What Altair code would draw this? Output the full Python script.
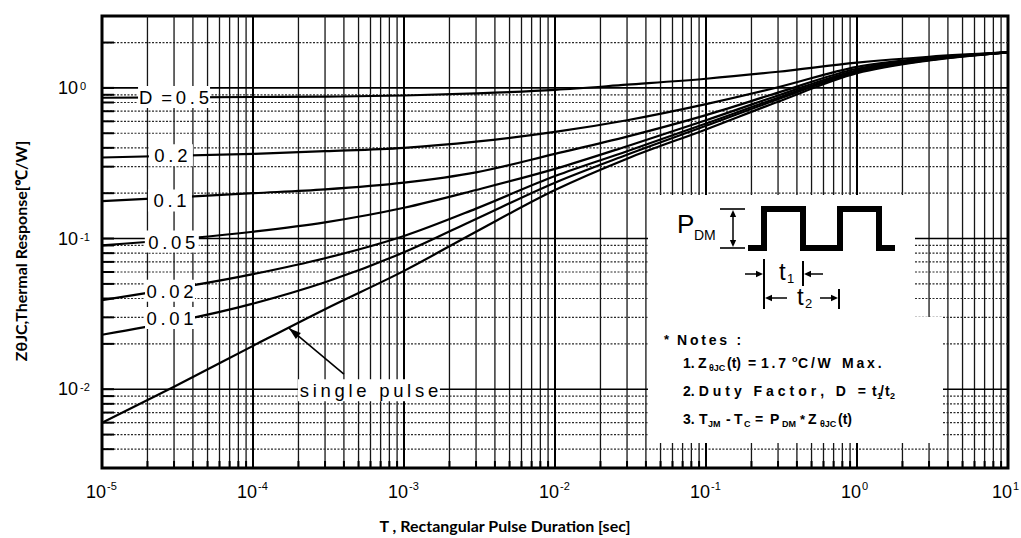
import math
import altair as alt
import pandas as pd

# ---------------- data ----------------
T = [1e-5, 1e-4, 3e-4, 1e-3, 3e-3, 1e-2, 3e-2, 1e-1, 3e-1, 1, 3, 10]
Z_D05 = [0.86, 0.87, 0.875, 0.89, 0.92, 0.97, 1.05, 1.15, 1.28, 1.47, 1.61, 1.72]
Z_D02 = [0.345, 0.365, 0.38, 0.40, 0.44, 0.51, 0.61, 0.78, 1.01, 1.38, 1.58, 1.72]
Z_D01 = [0.177, 0.20, 0.212, 0.235, 0.275, 0.365, 0.475, 0.66, 0.93, 1.34, 1.56, 1.72]
Z_D005 = [0.09, 0.111, 0.128, 0.16, 0.21, 0.29, 0.41, 0.61, 0.89, 1.31, 1.55, 1.72]
Z_D002 = [0.039, 0.058, 0.074, 0.104, 0.158, 0.26, 0.38, 0.58, 0.86, 1.29, 1.54, 1.72]
Z_D001 = [0.023, 0.037, 0.0513, 0.081, 0.135, 0.235, 0.36, 0.56, 0.84, 1.27, 1.53, 1.72]
T_SINGLE = [1e-5, 3e-5, 1e-4, 3e-4, 1e-3, 3e-3, 1e-2, 3e-2, 1e-1, 3e-1, 1, 3, 10]
Z_SINGLE = [0.006, 0.0104, 0.0194, 0.034, 0.061, 0.111, 0.21, 0.339, 0.53, 0.81, 1.25, 1.52, 1.72]

SERIES = [("D=0.5", T, Z_D05), ("D=0.2", T, Z_D02), ("D=0.1", T, Z_D01),
          ("D=0.05", T, Z_D005), ("D=0.02", T, Z_D002), ("D=0.01", T, Z_D001),
          ("single", T_SINGLE, Z_SINGLE)]

X_DOMAIN = [1e-5, 10]
Y_DOMAIN = [0.003, 3]
X_DECADES = [1e-5, 1e-4, 1e-3, 1e-2, 1e-1, 1, 10]
X_EXP = ["-5", "-4", "-3", "-2", "-1", "0", "1"]
Y_DECADES = [1e-2, 1e-1, 1]
Y_EXP = ["-2", "-1", "0"]
X_MINOR = [round(k * d, 12) for d in X_DECADES[:-1] for k in range(2, 10)]
Y_MINOR = [0.004, 0.005, 0.006, 0.007, 0.008, 0.009,
           0.02, 0.03, 0.04, 0.05, 0.06, 0.07, 0.08, 0.09,
           0.2, 0.3, 0.4, 0.5, 0.6, 0.7, 0.8, 0.9, 2]
X_MAJOR = X_DECADES[1:-1]
Y_MAJOR = Y_DECADES

CURVE_LABELS = ["D =0.5", "0.2", "0.1", "0.05", "0.02", "0.01", "single pulse"]
LABEL_X = [3.0e-5, 2.86e-5, 2.82e-5, 2.9e-5, 2.82e-5, 2.82e-5, 5.86e-4]
LABEL_Y = [0.871, 0.357, 0.179, 0.0955, 0.045, 0.0297, 0.00985]
LABEL_HALF_W = [36, 22, 22, 27, 25, 25, 71]   # px, white box behind label
LABEL_HALF_H = 11

ARROW_TAIL = (4.0e-4, 0.0126)
ARROW_TIP = (1.73e-4, 0.0254)

X_TITLE = "T , Rectangular Pulse Duration [sec]"
Y_TITLE = "Z\u03b8JC,Thermal Response[\u2103/W]"

# ---------------- inset (pixel coordinates of the figure) ----------------
INSET_BOX = [(648, 195, 915, 317), (648, 317, 943, 443)]
WAVE_X = [748, 764, 764, 803, 803, 840, 840, 879, 879, 895]
WAVE_Y = [248, 248, 209, 209, 248, 248, 209, 209, 248, 248]
INSET_RULES = [  # x, y, x2, y2, width
    (733, 214, 733, 244, 1.5), (720, 209, 745, 209, 1.6), (720, 248, 745, 248, 1.6),
    (764, 259, 764, 309, 2.0), (803, 261, 803, 286, 2.0),
    (745, 274, 757, 274, 1.5), (823, 274, 810, 274, 1.5),
    (787, 298, 772, 298, 1.5), (820, 298, 834, 298, 1.5),
    (839, 289, 839, 309, 2.0)]
INSET_HEADS = [  # tip x, tip y, angle
    (733, 210, 0), (733, 247, 180), (763, 274, 90), (804, 274, 270),
    (765, 298, 270), (838, 298, 90)]


def sp(s, gap="\u2009"):
    return gap.join(s)


INSET_TEXT_REG = [  # text, x, baseline y, size
    ("P", 677, 233, 26), ("DM", 694, 240, 14),
    ("t", 779, 280, 24), ("1", 787, 283, 13),
    ("t", 797, 305, 24), ("2", 805, 308, 13)]
INSET_TEXT_BOLD = [
    ("*", 664, 344, 13), (sp("Notes :"), 677, 345, 14),
    ("1.", 683, 368, 14), ("Z", 698, 368, 14), ("\u03b8JC", 709, 371, 9), ("(t)", 727, 368, 14),
    ("=", 748, 368, 14), (sp("1.7"), 761, 368, 14), ("o", 792, 362, 9),
    (sp("C/W"), 798, 368, 14), (sp("Max."), 842, 368, 14),
    ("2.", 683, 396, 14),
    ("t", 872, 396, 14), ("1", 877, 399, 9), ("/", 880, 396, 14),
    ("t", 885, 396, 14), ("2", 890, 399, 9),
    ("3.", 683, 424, 14), ("T", 699, 424, 14), ("JM", 708, 427, 9),
    ("-", 726, 424, 14), ("T", 734, 424, 14), ("C", 744, 427, 9),
    ("=", 755, 424, 14), ("P", 770, 424, 14), ("DM", 782, 427, 9),
    ("*", 800, 424, 13), ("Z", 808, 424, 14), ("\u03b8JC", 820, 427, 9),
    ("(t)", 838, 424, 14)]
INSET_TEXT_BOLD_RIGHT = [(sp("Duty Factor, D =", "\u2009\u200a"), 866, 396, 14)]

# ---------------- layout ----------------
PLOT_W, PLOT_H = 906, 452
PAD = {"left": 102, "top": 16, "right": 13, "bottom": 70}
FONT = "Liberation Sans"
DEC_X = PLOT_W / math.log10(X_DOMAIN[1] / X_DOMAIN[0])
DEC_Y = PLOT_H / math.log10(Y_DOMAIN[1] / Y_DOMAIN[0])

xs = alt.Scale(type="log", domain=X_DOMAIN, nice=False)
ys = alt.Scale(type="log", domain=Y_DOMAIN, nice=False)
X = lambda f: alt.X(f, type="quantitative", scale=xs, axis=None)
Y = lambda f: alt.Y(f, type="quantitative", scale=ys, axis=None)
X2 = lambda f: alt.X2(f)
Y2 = lambda f: alt.Y2(f)

# grid
g_xminor = alt.Chart(pd.DataFrame({"x": X_MINOR})).mark_rule(
    color="#151515", strokeWidth=1.3).encode(x=X("x"))
g_yminor = alt.Chart(pd.DataFrame({"y": Y_MINOR})).mark_rule(
    color="#2a2a2a", strokeWidth=1.2, strokeDash=[2, 1.5]).encode(y=Y("y"))
g_xmajor = alt.Chart(pd.DataFrame({"x": X_MAJOR})).mark_rule(
    color="black", strokeWidth=2).encode(x=X("x"))
g_ymajor = alt.Chart(pd.DataFrame({"y": Y_MAJOR})).mark_rule(
    color="black", strokeWidth=1.6).encode(y=Y("y"))
stub_y = alt.Chart(pd.DataFrame({"y": Y_MINOR + Y_MAJOR})).mark_rule(
    color="black", strokeWidth=2).encode(y=Y("y"), x=alt.value(0), x2=alt.value(12))
stub_x = alt.Chart(pd.DataFrame({"x": X_MINOR + X_MAJOR})).mark_rule(
    color="black", strokeWidth=2).encode(x=X("x"), y=alt.value(PLOT_H - 7), y2=alt.value(PLOT_H))

# curves
rows = []
for name, ts, zs in SERIES:
    for i, (t, z) in enumerate(zip(ts, zs)):
        rows.append({"series": name, "t": t, "z": z, "i": i})
curves = alt.Chart(pd.DataFrame(rows)).mark_line(
    color="black", strokeWidth=2.2, interpolate="monotone").encode(
    x=X("t"), y=Y("z"), detail="series:N", order="i:Q")

# labels
lab = pd.DataFrame({
    "text": [sp(s) if s != "D =0.5" else "D\u2009 =\u20090\u2009.\u20095" for s in CURVE_LABELS],
    "x": LABEL_X, "y": LABEL_Y,
    "x1": [x * 10 ** (-w / DEC_X) for x, w in zip(LABEL_X, LABEL_HALF_W)],
    "x2": [x * 10 ** (w / DEC_X) for x, w in zip(LABEL_X, LABEL_HALF_W)],
    "y1": [y * 10 ** (-LABEL_HALF_H / DEC_Y) for y in LABEL_Y],
    "y2": [y * 10 ** (LABEL_HALF_H / DEC_Y) for y in LABEL_Y],
})
lab_box = alt.Chart(lab).mark_rect(color="white").encode(
    x=X("x1"), x2=X2("x2"), y=Y("y1"), y2=Y2("y2"))
lab_text = alt.Chart(lab).mark_text(
    font=FONT, fontSize=18.5, color="black", align="center", baseline="middle", dy=1).encode(
    x=X("x"), y=Y("y"), text="text:N")

# single-pulse arrow
dxp = DEC_X * math.log10(ARROW_TIP[0] / ARROW_TAIL[0])
dyp = -DEC_Y * math.log10(ARROW_TIP[1] / ARROW_TAIL[1])
ang = (math.degrees(math.atan2(dxp, -dyp)) + 360) % 360
arr = pd.DataFrame({"x": [ARROW_TAIL[0]], "y": [ARROW_TAIL[1]],
                    "x2": [ARROW_TIP[0]], "y2": [ARROW_TIP[1]], "a": [ang]})
arrow_line = alt.Chart(arr).mark_rule(color="black", strokeWidth=1.6).encode(
    x=X("x"), y=Y("y"), x2=X2("x2"), y2=Y2("y2"))
HEAD = "M0,0L0.32,1L-0.32,1Z"
arrow_head = alt.Chart(arr).mark_point(
    shape=HEAD, filled=True, color="black", opacity=1, size=600, strokeWidth=0).encode(
    x=X("x2"), y=Y("y2"), angle=alt.Angle("a:Q", scale=None))

# tick labels
xd = pd.DataFrame({"x": X_DECADES, "e": X_EXP, "ten": ["10"] * len(X_DECADES)})
yd = pd.DataFrame({"y": Y_DECADES, "e": Y_EXP, "ten": ["10"] * len(Y_DECADES)})
xl_ten = alt.Chart(xd).mark_text(font=FONT, fontSize=18, align="right", baseline="alphabetic",
                                 dx=4, color="black").encode(x=X("x"), y=alt.value(PLOT_H + 30), text="ten:N")
xl_exp = alt.Chart(xd).mark_text(font=FONT, fontSize=11, align="left", baseline="alphabetic",
                                 dx=5, color="black").encode(x=X("x"), y=alt.value(PLOT_H + 22), text="e:N")
yl_ten = alt.Chart(yd).mark_text(font=FONT, fontSize=18, align="right", baseline="middle",
                                 dy=1, color="black").encode(y=Y("y"), x=alt.value(-24), text="ten:N")
yl_exp = alt.Chart(yd).mark_text(font=FONT, fontSize=11, align="left", baseline="top",
                                 dy=-7, color="black").encode(y=Y("y"), x=alt.value(-22), text="e:N")

main = alt.layer(g_xminor, g_yminor, g_xmajor, g_ymajor, stub_y, stub_x, curves,
                 lab_box, lab_text, arrow_line, arrow_head, xl_ten, xl_exp, yl_ten, yl_exp)

# ---------------- inset layer (pixel scales) ----------------
pxs = alt.Scale(domain=[PAD["left"], PAD["left"] + PLOT_W], nice=False, zero=False)
pys = alt.Scale(domain=[PAD["top"], PAD["top"] + PLOT_H], nice=False, zero=False, reverse=True)
PX = lambda f: alt.X(f, type="quantitative", scale=pxs, axis=None)
PY = lambda f: alt.Y(f, type="quantitative", scale=pys, axis=None)

box = pd.DataFrame(INSET_BOX, columns=["x", "y", "x2", "y2"])
i_box = alt.Chart(box).mark_rect(color="white").encode(
    x=PX("x"), y=PY("y"), x2=alt.X2("x2"), y2=alt.Y2("y2"))
wave = pd.DataFrame({"x": WAVE_X, "y": WAVE_Y, "i": list(range(len(WAVE_X)))})
i_wave = alt.Chart(wave).mark_line(color="black", strokeWidth=6, strokeJoin="miter",
                                   strokeCap="butt").encode(x=PX("x"), y=PY("y"), order="i:Q")
rules = pd.DataFrame(INSET_RULES, columns=["x", "y", "x2", "y2", "w"])
i_rules = alt.Chart(rules).mark_rule(color="black").encode(
    x=PX("x"), y=PY("y"), x2=alt.X2("x2"), y2=alt.Y2("y2"),
    strokeWidth=alt.StrokeWidth("w:Q", scale=None))
heads = pd.DataFrame(INSET_HEADS, columns=["x", "y", "a"])
i_heads = alt.Chart(heads).mark_point(
    shape="M0,0L0.45,1L-0.45,1Z", filled=True, color="black", opacity=1, size=196,
    strokeWidth=0).encode(x=PX("x"), y=PY("y"), angle=alt.Angle("a:Q", scale=None))
treg = pd.DataFrame(INSET_TEXT_REG, columns=["text", "x", "y", "s"])
i_treg = alt.Chart(treg).mark_text(font=FONT, align="left", baseline="alphabetic",
                                   color="black").encode(
    x=PX("x"), y=PY("y"), text="text:N", size=alt.Size("s:Q", scale=None))
tbold = pd.DataFrame(INSET_TEXT_BOLD, columns=["text", "x", "y", "s"])
i_tbold = alt.Chart(tbold).mark_text(font=FONT, fontWeight="bold", align="left",
                                     baseline="alphabetic", color="black").encode(
    x=PX("x"), y=PY("y"), text="text:N", size=alt.Size("s:Q", scale=None))
tbold_r = pd.DataFrame(INSET_TEXT_BOLD_RIGHT, columns=["text", "x", "y", "s"])
i_tbold_r = alt.Chart(tbold_r).mark_text(font=FONT, fontWeight="bold", align="right",
                                         baseline="alphabetic", color="black").encode(
    x=PX("x"), y=PY("y"), text="text:N", size=alt.Size("s:Q", scale=None))
xt = alt.Chart(pd.DataFrame({"t": [X_TITLE], "x": [505], "y": [527]})).mark_text(
    font="Lato", fontWeight="bold", fontSize=16, align="center", baseline="middle",
    color="black").encode(x=PX("x"), y=PY("y"), text="t:N")
yt = alt.Chart(pd.DataFrame({"t": [Y_TITLE], "x": [22], "y": [251]})).mark_text(
    font="Lato", fontWeight="bold", fontSize=16, align="center", baseline="middle",
    angle=270, color="black").encode(x=PX("x"), y=PY("y"), text="t:N")

inset = alt.layer(i_box, i_wave, i_rules, i_heads, i_treg, i_tbold, i_tbold_r, xt, yt)

chart = alt.layer(main, inset).resolve_scale(x="independent", y="independent").properties(
    width=PLOT_W, height=PLOT_H, padding=PAD,
    autosize=alt.AutoSizeParams(type="none"), background="white",
).configure_view(stroke="black", strokeWidth=3)

chart.save("out.html", embed_options={"renderer": "svg", "actions": False})
